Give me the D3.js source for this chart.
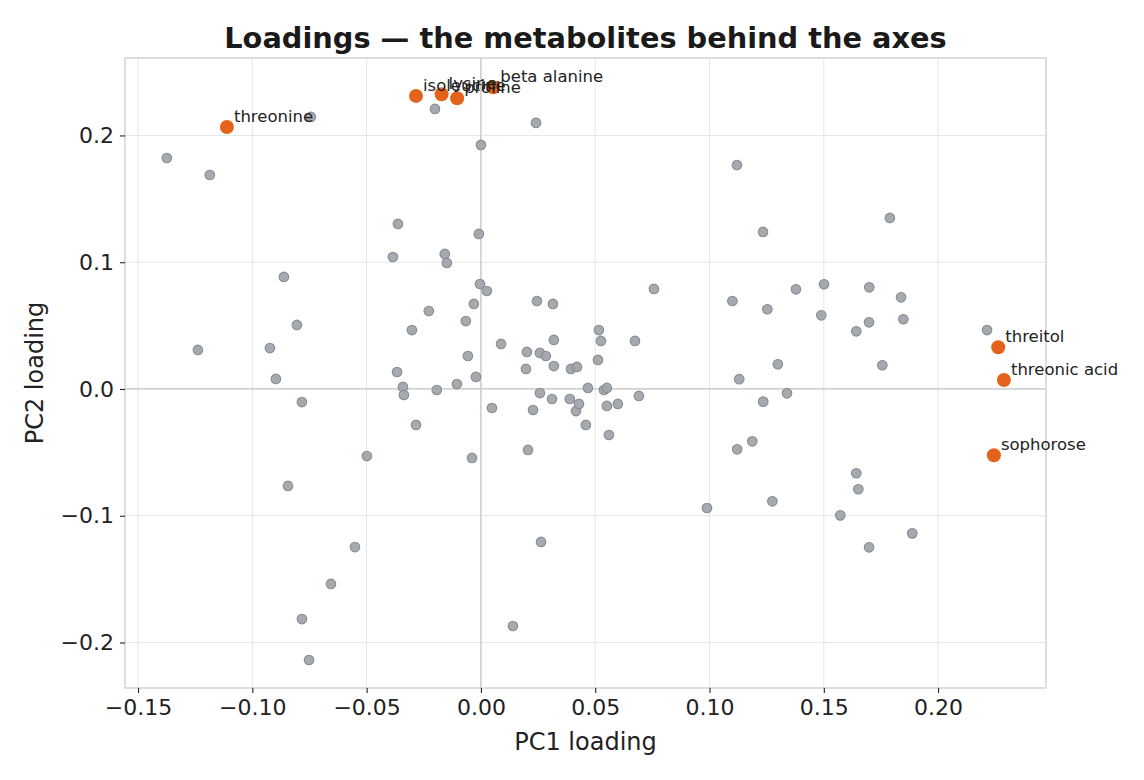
<!DOCTYPE html>
<html>
<head>
<meta charset="utf-8">
<script src="https://cdn.jsdelivr.net/npm/d3@7"></script>
<style>
  html, body { margin: 0; padding: 0; background: #fff; }
  svg { display: block; font-family: "DejaVu Sans", sans-serif; }
</style>
</head>
<body>
<svg id="chart" width="1144" height="780"></svg>
<script>
// background metabolites (PC1, PC2)
var pc1 = [-0.0744, -0.1374, -0.1186, -0.0201, 0.0241, 0.0000, 0.1120, 0.1789, 0.1234, -0.0363,
  -0.0009, -0.0158, -0.0149, -0.0385, -0.0862, -0.0004, 0.0026, 0.0757, -0.0805, 0.0245,
  0.0315, -0.0031, -0.0228, -0.0066, -0.0302, 0.0088, 0.0319, 0.0516, 0.0525, 0.0674,
  -0.0057, 0.0201, 0.0258, 0.0284, 0.0197, 0.0319, 0.0394, 0.0420, 0.0512, -0.1238,
  -0.0923, -0.0897, -0.0367, -0.0341, -0.0337, -0.0193, -0.0105, -0.0022, -0.0783, -0.0284,
  0.0048, 0.0258, 0.0311, 0.0228, 0.0389, 0.0416, 0.0429, 0.0468, 0.0538, 0.0551,
  0.0551, 0.0599, 0.0691, 0.0459, 0.0560, -0.0039, -0.0499, 0.0206, -0.0844, -0.0551,
  -0.0656, -0.0783, -0.0752, 0.0263, 0.0140, 0.0989, 0.1100, 0.1253, 0.1378, 0.1501,
  0.1489, 0.1699, 0.1838, 0.1848, 0.1698, 0.1642, 0.2214, 0.1299, 0.1756, 0.1130,
  0.1339, 0.1235, 0.1187, 0.1121, 0.1642, 0.1651, 0.1275, 0.1572, 0.1887, 0.1698];
var pc2 = [0.2146, 0.1822, 0.1688, 0.2209, 0.2099, 0.1925, 0.1767, 0.1349, 0.1239, 0.1302,
  0.1223, 0.1065, 0.0994, 0.1041, 0.0884, 0.0828, 0.0773, 0.0789, 0.0505, 0.0694,
  0.0671, 0.0671, 0.0615, 0.0536, 0.0465, 0.0355, 0.0387, 0.0465, 0.0379, 0.0379,
  0.0260, 0.0292, 0.0284, 0.0260, 0.0158, 0.0181, 0.0158, 0.0174, 0.0229, 0.0308,
  0.0323, 0.0079, 0.0134, 0.0016, -0.0047, -0.0008, 0.0039, 0.0095, -0.0103, -0.0284,
  -0.0150, -0.0032, -0.0079, -0.0166, -0.0079, -0.0174, -0.0118, 0.0008, -0.0008, 0.0008,
  -0.0134, -0.0118, -0.0055, -0.0284, -0.0363, -0.0544, -0.0529, -0.0481, -0.0765, -0.1247,
  -0.1538, -0.1815, -0.2138, -0.1207, -0.1870, -0.0939, 0.0694, 0.0629, 0.0786, 0.0826,
  0.0581, 0.0802, 0.0723, 0.0550, 0.0526, 0.0455, 0.0465, 0.0195, 0.0187, 0.0077,
  -0.0034, -0.0100, -0.0413, -0.0476, -0.0665, -0.0791, -0.0886, -0.0997, -0.1139, -0.1249];

// highlighted metabolites
var topNames = ["threonine", "isoleucine", "lysine", "proline", "beta alanine", "threitol", "threonic acid", "sophorose"];
var topPc1 = [-0.1111, -0.0284, -0.0172, -0.0104, 0.0054, 0.2263, 0.2288, 0.2244];
var topPc2 = [0.2067, 0.2312, 0.2325, 0.2294, 0.2380, 0.0329, 0.0071, -0.0523];

var xTicks = [-0.15, -0.10, -0.05, 0.00, 0.05, 0.10, 0.15, 0.20];
var yTicks = [-0.2, -0.1, 0.0, 0.1, 0.2];

var margin = {left: 125, right: 98, top: 58, bottom: 92};
var W = 1144, H = 780;

var svg = d3.select('#chart');
var x = d3.scaleLinear().domain([-0.1557, 0.2472]).range([margin.left, W - margin.right]);
var y = d3.scaleLinear().domain([-0.2359, 0.2611]).range([H - margin.bottom, margin.top]);

var minus = function(s) { return s.replace('-', '\u2212'); };

// grid
var grid = svg.append('g');
grid.selectAll('.gx').data(xTicks).enter().append('line')
  .attr('x1', d => x(d)).attr('x2', d => x(d))
  .attr('y1', margin.top).attr('y2', H - margin.bottom)
  .attr('stroke', '#e6e6e6').attr('stroke-width', 1);
grid.selectAll('.gy').data(yTicks).enter().append('line')
  .attr('x1', margin.left).attr('x2', W - margin.right)
  .attr('y1', d => y(d)).attr('y2', d => y(d))
  .attr('stroke', '#e6e6e6').attr('stroke-width', 1);

// zero lines
svg.append('line').attr('x1', x(0)).attr('x2', x(0)).attr('y1', margin.top).attr('y2', H - margin.bottom)
  .attr('stroke', '#c8c8c8').attr('stroke-width', 1.3);
svg.append('line').attr('x1', margin.left).attr('x2', W - margin.right).attr('y1', y(0)).attr('y2', y(0))
  .attr('stroke', '#c8c8c8').attr('stroke-width', 1.3);

// frame
svg.append('rect').attr('x', margin.left).attr('y', margin.top)
  .attr('width', W - margin.left - margin.right).attr('height', H - margin.top - margin.bottom)
  .attr('fill', 'none').attr('stroke', '#cccccc').attr('stroke-width', 1.3);

// axes
var xAxis = svg.append('g').attr('transform', 'translate(0,' + (H - margin.bottom) + ')')
  .call(d3.axisBottom(x).tickValues(xTicks).tickSize(5).tickPadding(6).tickFormat(d => minus(d3.format('.2f')(d))));
var yAxis = svg.append('g').attr('transform', 'translate(' + margin.left + ',0)')
  .call(d3.axisLeft(y).tickValues(yTicks).tickSize(5).tickPadding(6).tickFormat(d => minus(d3.format('.1f')(d))));
[xAxis, yAxis].forEach(function(a) {
  a.select('.domain').remove();
  a.selectAll('.tick line').attr('stroke', '#222').attr('stroke-width', 1.1);
  a.selectAll('.tick text').attr('fill', '#222').attr('font-size', 22).attr('font-family', 'DejaVu Sans');
});

// points
var pts = pc1.map((v, i) => ({x: v, y: pc2[i]}));
svg.append('g').selectAll('circle').data(pts).enter().append('circle')
  .attr('cx', d => x(d.x)).attr('cy', d => y(d.y)).attr('r', 4.8)
  .attr('fill', '#a0a5ab').attr('fill-opacity', 0.95)
  .attr('stroke', '#868c93').attr('stroke-width', 1.1);

var tops = topNames.map((n, i) => ({name: n, x: topPc1[i], y: topPc2[i]}));
svg.append('g').selectAll('circle').data(tops).enter().append('circle')
  .attr('cx', d => x(d.x)).attr('cy', d => y(d.y)).attr('r', 7)
  .attr('fill', '#e4621a');
svg.append('g').selectAll('text').data(tops).enter().append('text')
  .attr('x', d => x(d.x) + 7).attr('y', d => y(d.y) - 5)
  .attr('font-size', 16.5).attr('fill', '#222')
  .text(d => d.name);

// labels
svg.append('text').attr('x', (margin.left + W - margin.right) / 2).attr('y', 48)
  .attr('text-anchor', 'middle').attr('font-size', 28.8).attr('font-weight', 'bold').attr('fill', '#1a1a1a')
  .text('Loadings \u2014 the metabolites behind the axes');
svg.append('text').attr('x', (margin.left + W - margin.right) / 2).attr('y', 750)
  .attr('text-anchor', 'middle').attr('font-size', 24).attr('fill', '#222')
  .text('PC1 loading');
svg.append('text').attr('transform', 'translate(43,' + ((margin.top + H - margin.bottom) / 2) + ') rotate(-90)')
  .attr('text-anchor', 'middle').attr('font-size', 24).attr('fill', '#222')
  .text('PC2 loading');
</script>
</body>
</html>
